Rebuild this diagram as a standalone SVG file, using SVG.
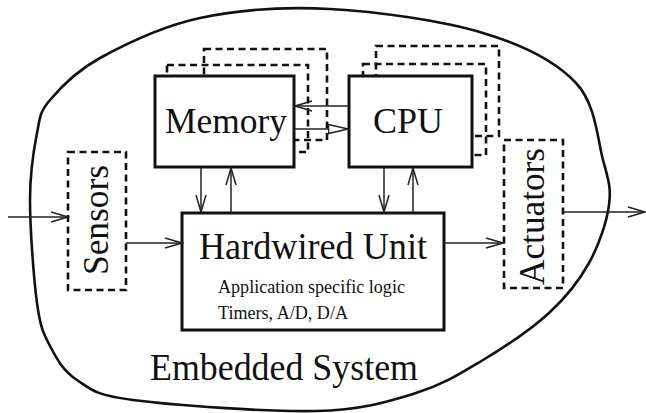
<svg xmlns="http://www.w3.org/2000/svg" width="646" height="413" viewBox="0 0 646 413">
<style>
.box{fill:#fff;stroke:#111;stroke-width:3}
.dash{fill:none;stroke:#111;stroke-width:2.6;stroke-dasharray:7 4.5}
.big{font-family:"Liberation Serif","Times New Roman",serif;fill:#111}
.small{font-family:"Liberation Serif","Times New Roman",serif;font-size:18px;fill:#111}
.ln{fill:none;stroke:#222;stroke-width:1.5}
</style>
<defs>
<marker id="arr" viewBox="0 0 20 12" refX="18" refY="6" markerWidth="20" markerHeight="12" markerUnits="userSpaceOnUse" orient="auto">
<path d="M1,1 L18,6 L1,11" fill="none" stroke="#222" stroke-width="1.5"/>
</marker>
<marker id="tri" viewBox="0 0 22 12" refX="20.5" refY="6" markerWidth="22" markerHeight="12" markerUnits="userSpaceOnUse" orient="auto">
<path d="M1,1.5 L20.5,6 L1,10.5 Z" fill="#fff" stroke="#222" stroke-width="1.5"/>
</marker>
</defs>
<g id="embedded-system">
<path d="M330,9 C377.2,11.5 442,20.7 483,33 C524,45.3 556,61.8 576,83 C596,104.2 597.5,139.7 603,160 C608.5,180.3 611.3,187.8 609,205 C606.7,222.2 599,245 589,263 C579,281 566.7,296.8 549,313 C531.3,329.2 505.2,346.7 483,360 C460.8,373.3 443.8,384.5 416,393 C388.2,401.5 363.2,409.8 316,411 C268.8,412.2 172.8,405.2 133,400 C93.2,394.8 90.8,389 77,380 C63.2,371 56.7,358.8 50,346 C43.3,333.2 40.3,327.3 37,303 C33.7,278.7 30,228.3 30,200 C30,171.7 33.7,149.7 37,133 C40.3,116.3 39.5,112.5 50,100 C60.5,87.5 75,71.7 100,58 C125,44.3 161.7,26.2 200,18 C238.3,9.8 282.8,6.5 330,9 Z" fill="none" stroke="#111" stroke-width="2.6"/>
<text class="big" x="150" y="380" font-size="37" textLength="268" lengthAdjust="spacingAndGlyphs">Embedded System</text>
</g>
<g id="memory">
<rect class="dash" x="204" y="49" width="123" height="91"/>
<rect class="dash" x="167" y="65" width="141" height="87"/>
<rect class="box" x="155" y="76" width="139" height="91"/>
<text class="big" x="165" y="133" font-size="35" textLength="122" lengthAdjust="spacingAndGlyphs">Memory</text>
</g>
<g id="cpu">
<rect class="dash" x="376" y="46" width="123" height="90"/>
<rect class="dash" x="363" y="64" width="123" height="91"/>
<rect class="box" x="349" y="76" width="123" height="91"/>
<text class="big" x="373" y="133" font-size="35" textLength="70" lengthAdjust="spacingAndGlyphs">CPU</text>
</g>
<g id="sensors">
<rect class="dash" x="68" y="152" width="58" height="138"/>
<text class="big" transform="translate(108,220) rotate(-90)" text-anchor="middle" font-size="36" textLength="110" lengthAdjust="spacingAndGlyphs">Sensors</text>
</g>
<g id="actuators">
<rect class="dash" x="504" y="140" width="59" height="148"/>
<text class="big" transform="translate(544,216.5) rotate(-90)" text-anchor="middle" font-size="36" textLength="137" lengthAdjust="spacingAndGlyphs">Actuators</text>
</g>
<g id="hardwired-unit">
<rect class="box" x="182" y="213" width="262" height="117"/>
<text class="big" x="199" y="259" font-size="38" textLength="228" lengthAdjust="spacingAndGlyphs">Hardwired Unit</text>
<text class="small" x="218" y="293" textLength="187" lengthAdjust="spacingAndGlyphs">Application specific logic</text>
<text class="small" x="218" y="319" textLength="130" lengthAdjust="spacingAndGlyphs">Timers, A/D, D/A</text>
</g>
<g id="connectors">
<line class="ln" x1="8" y1="217" x2="68" y2="217" marker-end="url(#arr)"/>
<line class="ln" x1="126" y1="243" x2="182" y2="243" marker-end="url(#arr)"/>
<line class="ln" x1="444" y1="243" x2="503" y2="243" marker-end="url(#arr)"/>
<line class="ln" x1="563" y1="212" x2="645" y2="212" marker-end="url(#arr)"/>
<line class="ln" x1="349" y1="106" x2="295" y2="106" marker-end="url(#arr)"/>
<line class="ln" x1="295" y1="129" x2="348" y2="129" marker-end="url(#tri)"/>
<line class="ln" x1="201" y1="167" x2="201" y2="212" marker-end="url(#arr)"/>
<line class="ln" x1="231" y1="213" x2="231" y2="168" marker-end="url(#arr)"/>
<line class="ln" x1="384" y1="167" x2="384" y2="212" marker-end="url(#arr)"/>
<line class="ln" x1="413" y1="213" x2="413" y2="168" marker-end="url(#arr)"/>
</g>
</svg>
